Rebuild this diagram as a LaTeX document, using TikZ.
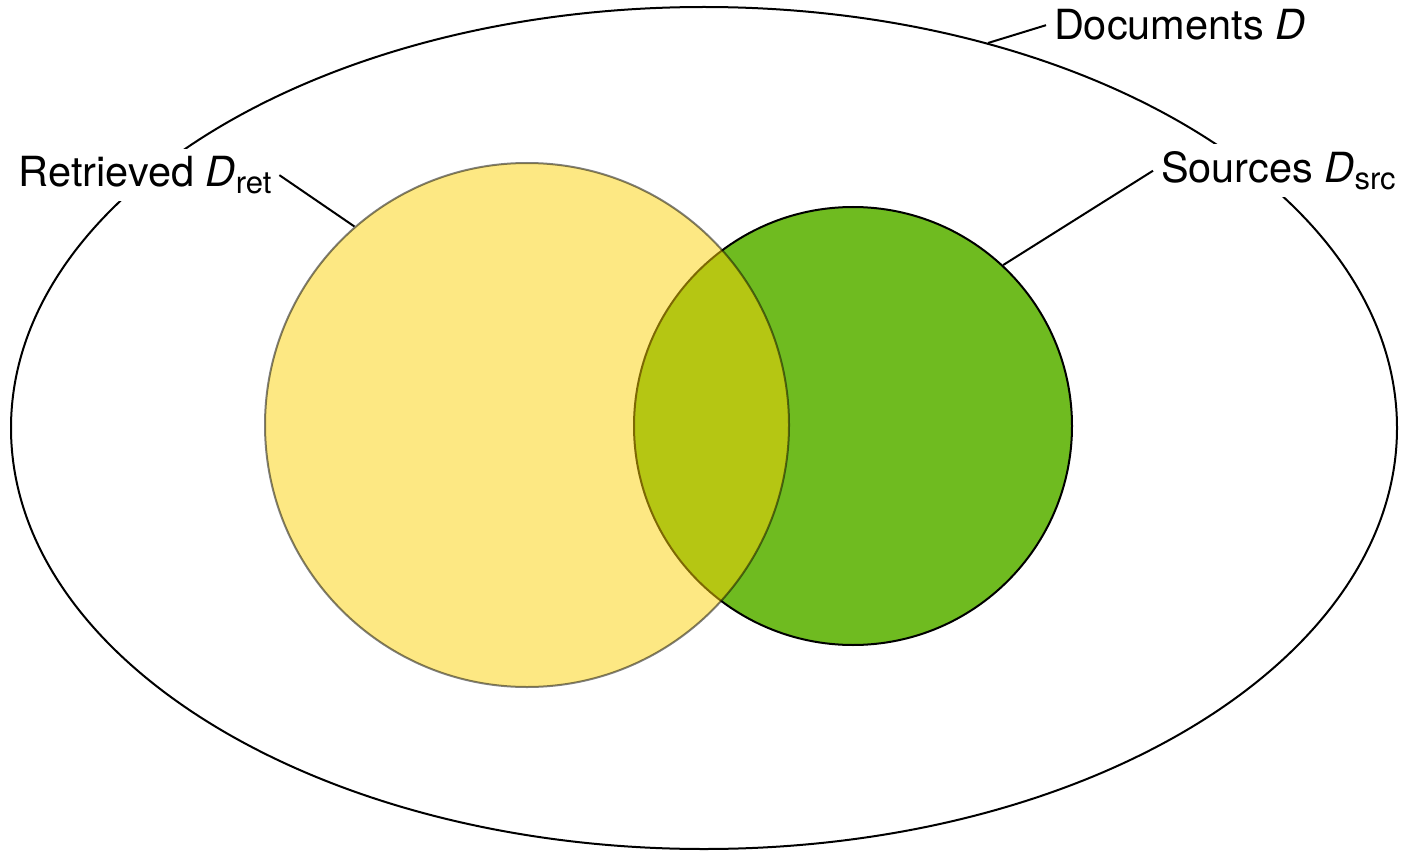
\documentclass[tikz,border=0pt]{standalone}
\usepackage{fontspec}
\setmainfont{TeX Gyre Heros}
\definecolor{srcgreen}{RGB}{111,187,32}
\definecolor{retyellow}{RGB}{251,209,7}
\begin{document}
\begin{tikzpicture}[x=1pt,y=-1pt,
  outline/.style={line width=2pt},
  lab/.style={font=\fontsize{41.5}{48}\selectfont, anchor=base west, inner sep=8pt, outer sep=0pt, fill=white},
  leader/.style={line width=2pt}]
\useasboundingbox (0,0) rectangle (1413,853);
\draw[outline] (704,428) ellipse [x radius=693pt, y radius=421pt];
\coordinate (docE) at (988,43);
\node[circle, draw, outline, fill=srcgreen, minimum size=438pt, inner sep=0pt] (src) at (853,426) {};
\node[circle, draw, outline, fill=retyellow, opacity=0.5, minimum size=524pt, inner sep=0pt] (ret) at (527,425) {};
\node[lab] (doclab) at (1046,40) {Documents \textit{D}};
\node[lab] (retlab) at (11,187) {Retrieved \textit{D}\raisebox{-6pt}{\fontsize{31}{32}\selectfont ret}};
\node[lab] (srclab) at (1153,183) {Sources \textit{D}\raisebox{-6pt}{\fontsize{31}{32}\selectfont src}};
\draw[leader] (doclab.west) -- (docE);
\draw[leader] (retlab.east) -- (ret.131);
\draw[leader] (srclab.west) -- (src.47);
\end{tikzpicture}
\end{document}
